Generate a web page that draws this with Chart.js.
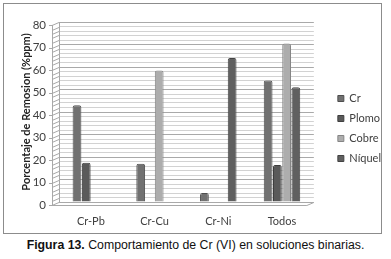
<!DOCTYPE html>
<html>
<head>
<meta charset="utf-8">
<script src="https://cdn.jsdelivr.net/npm/chart.js@4"></script>
<style>
  html, body { margin: 0; padding: 0; background: #fff; width: 391px; height: 259px; overflow: hidden; }
  #frame { position: absolute; left: 3px; top: 3px; width: 379px; height: 231px; box-sizing: border-box; border: 1px solid #8c8c8c; }
  #wrap { position: absolute; left: 0; top: 0; width: 391px; height: 235px; }
  #caption { position: absolute; left: 0; top: 238px; width: 391px; text-align: center; font: 12.3px "Liberation Sans", Arial, sans-serif; color: #111; }
</style>
</head>
<body>
<div id="frame"></div>
<div id="wrap"><canvas id="c"></canvas></div>
<div id="caption"><b>Figura 13.</b> Comportamiento de Cr (VI) en soluciones binarias.</div>
<script>
const categories = ["Cr-Pb", "Cr-Cu", "Cr-Ni", "Todos"];
const crVals = [43, 17, 4, 54];
const plomoVals = [17.5, null, null, 16.5];
const cobreVals = [null, 58.5, null, 70.5];
const niquelVals = [null, null, 64, 51];
const yTitle = "Porcentaje de Remosion (%ppm)";

const font = "Lato, 'Open Sans', sans-serif";

// fake 3D walls, drawn from the scale positions
const walls = {
  id: "walls",
  beforeDatasetsDraw(chart) {
    const { ctx, chartArea: a } = chart;
    const ys = chart.scales.y;
    const dx = 7, dy = 3;
    ctx.save();
    ctx.strokeStyle = "#a8a8a8";
    ctx.lineWidth = 1;
    ctx.beginPath();
    ys.ticks.forEach(t => {
      const y = Math.round(ys.getPixelForValue(t.value)) + 0.5;
      ctx.moveTo(a.left - dx, y + dy);
      ctx.lineTo(a.left, y);
      if (t.value % 10 === 0) {
        ctx.moveTo(a.left - dx - 3, y + dy);
        ctx.lineTo(a.left - dx, y + dy);
      }
    });
    ctx.moveTo(a.left - dx + 0.5, a.top + dy);
    ctx.lineTo(a.left - dx + 0.5, a.bottom + dy);
    ctx.moveTo(a.left + 0.5, a.top);
    ctx.lineTo(a.left + 0.5, a.bottom);
    ctx.moveTo(a.left - dx, a.bottom + dy + 0.5);
    ctx.lineTo(a.right - dx, a.bottom + dy + 0.5);
    ctx.lineTo(a.right, a.bottom + 0.5);
    ctx.stroke();
    ctx.restore();
  }
};

function ds(label, data, color, edge) {
  return { label, data, backgroundColor: color, borderColor: edge, borderWidth: 1, borderRadius: 2, borderSkipped: "bottom" };
}

new Chart(document.getElementById("c"), {
  type: "bar",
  data: {
    labels: categories,
    datasets: [
      ds("Cr", crVals, "#717171", "#4e4e4e"),
      ds("Plomo", plomoVals, "#5a5a5a", "#3e3e3e"),
      ds("Cobre", cobreVals, "#adadad", "#858585"),
      ds("Níquel", niquelVals, "#606060", "#424242"),
    ],
  },
  options: {
    responsive: true,
    maintainAspectRatio: false,
    animation: false,
    devicePixelRatio: 1,
    layout: { padding: { top: 22, left: 0, right: 0, bottom: 0 } },
    datasets: { bar: { categoryPercentage: 0.58, barPercentage: 0.95 } },
    plugins: {
      tooltip: { enabled: false },
      legend: {
        position: "right",
        labels: { boxWidth: 6, boxHeight: 6, padding: 9, color: "#404040", font: { family: font, size: 11 } },
      },
    },
    scales: {
      x: {
        grid: { display: false, drawTicks: false },
        border: { display: false },
        ticks: { color: "#404040", padding: 13, font: { family: font, size: 11 } },
        afterFit: s => { s.height = 33; },
      },
      y: {
        min: 0,
        max: 80,
        grid: { drawTicks: false, color: c => (c.tick.value % 10 === 0 ? "#a9a9a9" : "#d2d2d2") },
        border: { display: false },
        ticks: { stepSize: 2, autoSkip: false, labelOffset: 3, padding: 13, color: "#404040", font: { family: font, size: 11.5 },
          callback: v => (v % 10 === 0 ? v : "") },
        title: { display: true, text: yTitle, color: "#222", font: { family: font, size: 11, weight: "bold" }, padding: { top: 20, bottom: 0 } },
        afterFit: s => { s.width = 59; },
      },
      gap: {
        position: "right",
        grid: { display: false },
        border: { display: false },
        ticks: { display: false },
        afterFit: s => { s.width = 15; },
      },
    },
  },
  plugins: [walls],
});
</script>
</body>
</html>
